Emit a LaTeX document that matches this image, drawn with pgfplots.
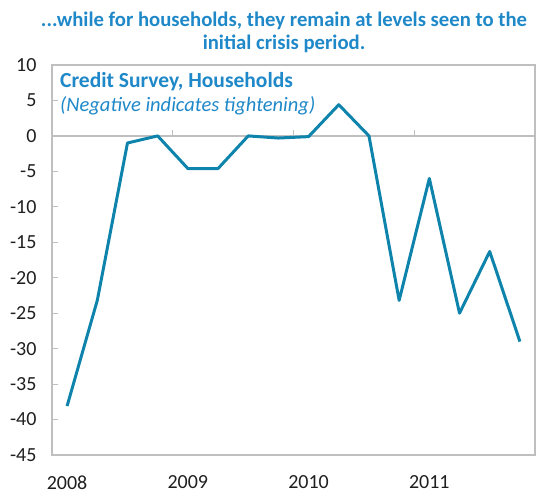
\documentclass[border=0pt]{standalone}
\usepackage{fontspec}
\setmainfont{Carlito}
\usepackage{pgfplots}
\pgfplotsset{compat=1.18}
\definecolor{ttl}{HTML}{1E88C8}
\definecolor{ln}{HTML}{0E84AC}
\definecolor{frm}{HTML}{BFBFBF}
\begin{document}
\begin{tikzpicture}[x=1pt,y=1pt]
\useasboundingbox (0,0) rectangle (537,489);
\node[font=\fontsize{20.7}{24}\selectfont\bfseries, text=ttl, anchor=base, inner sep=0pt] at (284,462) {...while for households, they remain at levels seen to the};
\node[font=\fontsize{20.7}{24}\selectfont\bfseries, text=ttl, anchor=base, inner sep=0pt] at (284,439) {initial crisis period.};
\begin{axis}[
  at={(52pt,34pt)}, anchor=south west, scale only axis,
  width=483pt, height=390pt,
  xmin=-0.5, xmax=15.5, ymin=-45, ymax=10,
  ytick={-45,-40,...,10},
  xtick={0,4,8,12}, xticklabels={2008,2009,2010,2011},
  axis line style={frm, line width=1.2pt},
  ytick pos=left, tick align=inside, major tick length=6pt,
  ytick style={frm, line width=1pt},
  xtick style={draw=none},
  /pgf/number format/assume math mode=true,
  ticklabel style={font=\fontsize{20}{24}\selectfont, text=black!88},
  yticklabel style={xshift=-12pt},
  xticklabel style={yshift=-17pt},
  clip=false,
]
\draw[frm, line width=1.2pt] (axis cs:-0.5,0) -- (axis cs:15.5,0);
\draw[frm, line width=1pt] (axis cs:3.5,0) -- (axis cs:3.5,0.85);
\draw[frm, line width=1pt] (axis cs:7.5,0) -- (axis cs:7.5,0.85);
\draw[frm, line width=1pt] (axis cs:11.5,0) -- (axis cs:11.5,0.85);
\addplot[ln, line width=3pt, line join=round, mark=none] coordinates {
(0,-38.1) (1,-23.2) (2,-1.0) (3,0) (4,-4.6) (5,-4.6) (6,0) (7,-0.3)
(8,-0.1) (9,4.4) (10,0) (11,-23.2) (12,-6.0) (13,-25.0) (14,-16.3) (15,-29.0)
};
\end{axis}
\node[font=\fontsize{21.5}{25}\selectfont\bfseries, text=ttl, anchor=base west, inner sep=0pt] at (60,401) {Credit Survey, Households};
\node[font=\fontsize{20.5}{24}\selectfont\itshape, text=ttl, anchor=base west, inner sep=0pt] at (60,377) {(Negative indicates tightening)};
\end{tikzpicture}
\end{document}
